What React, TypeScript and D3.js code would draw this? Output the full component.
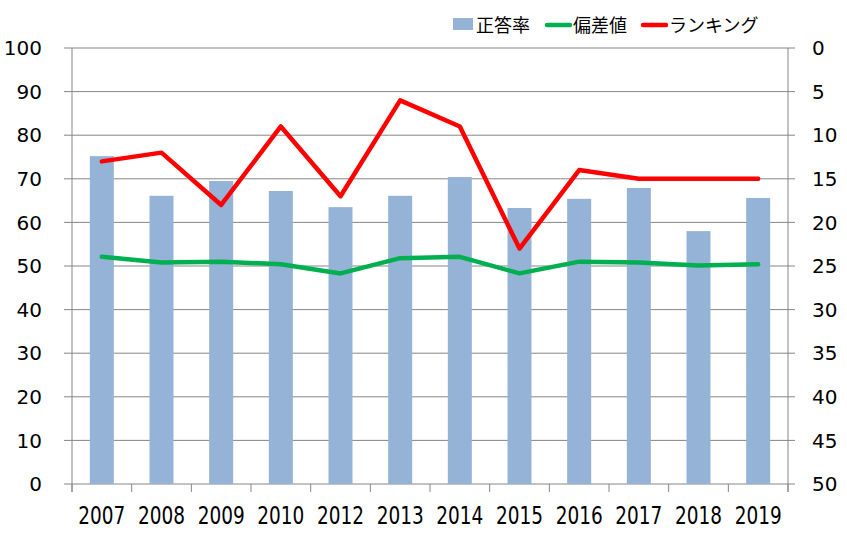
import React from "react";
import * as d3 from "d3";

const categories = ["2007", "2008", "2009", "2010", "2012", "2013", "2014", "2015", "2016", "2017", "2018", "2019"];
const correctRate = [75.2, 66.1, 69.5, 67.2, 63.5, 66.1, 70.4, 63.3, 65.4, 67.9, 58.0, 65.6];
const deviation = [52.1, 50.8, 51.0, 50.4, 48.3, 51.8, 52.1, 48.3, 51.0, 50.8, 50.1, 50.4];
const ranking = [13, 12, 18, 9, 17, 6, 9, 23, 14, 15, 15, 15];
const leftTicks = [0, 10, 20, 30, 40, 50, 60, 70, 80, 90, 100];
const rightTicks = [0, 5, 10, 15, 20, 25, 30, 35, 40, 45, 50];
const legendLabels = ["正答率", "偏差値", "ランキング"];

const W = 847, H = 546;
const L = 72, R = 788, T = 48, B = 484;
const GRID = "#868686";
const BAR = "#95B3D7";
const GREEN = "#00B050";
const RED = "#FF0000";
const NUM_FONT = "'DejaVu Sans', Verdana, sans-serif";
const JP_FONT = "'Noto Sans CJK JP', sans-serif";

export default function App() {
  const x = d3.scaleBand<string>().domain(categories).range([L, R]).padding(0);
  const yL = d3.scaleLinear().domain([0, 100]).range([B, T]);
  const yR = d3.scaleLinear().domain([0, 50]).range([T, B]);
  const cx = (c: string) => (x(c) as number) + x.bandwidth() / 2;
  const barW = 24;

  const greenLine = d3.line<number>().x((_, i) => cx(categories[i])).y((d) => yL(d))(deviation) || "";
  const redLine = d3.line<number>().x((_, i) => cx(categories[i])).y((d) => yR(d))(ranking) || "";

  const boundaries = categories.map((c) => x(c) as number).concat([R]);

  return (
    <svg width={W} height={H} style={{ position: "absolute", left: 0, top: 0, background: "#fff" }}>
      <rect x={0} y={0} width={W} height={H} fill="#fff" />
      {/* gridlines + left ticks */}
      {leftTicks.map((t) => (
        <line key={"g" + t} x1={L - 8} x2={R + 7} y1={yL(t)} y2={yL(t)} stroke={GRID} strokeWidth={1} />
      ))}
      {/* left/right axis lines */}
      <line x1={L} x2={L} y1={T} y2={B + 8} stroke={GRID} strokeWidth={1} />
      <line x1={R} x2={R} y1={T} y2={B + 8} stroke={GRID} strokeWidth={1} />
      {/* bottom ticks */}
      {boundaries.map((b, i) => (
        <line key={"bt" + i} x1={b} x2={b} y1={B} y2={B + 8} stroke={GRID} strokeWidth={1} />
      ))}
      {/* bars */}
      {correctRate.map((v, i) => (
        <rect key={"b" + i} x={cx(categories[i]) - barW / 2} y={yL(v)} width={barW} height={B - yL(v)} fill={BAR} />
      ))}
      {/* lines */}
      <path d={greenLine} fill="none" stroke={GREEN} strokeWidth={4.5} strokeLinejoin="round" strokeLinecap="round" />
      <path d={redLine} fill="none" stroke={RED} strokeWidth={4.5} strokeLinejoin="round" strokeLinecap="round" />
      {/* left labels */}
      {leftTicks.map((t) => (
        <text key={"lt" + t} x={42} y={yL(t)} dy="0.36em" textAnchor="end" fontFamily={NUM_FONT} fontSize={20} fill="#000">
          {t}
        </text>
      ))}
      {/* right labels */}
      {rightTicks.map((t) => (
        <text key={"rt" + t} x={812} y={yR(t)} dy="0.36em" textAnchor="start" fontFamily={NUM_FONT} fontSize={20} fill="#000">
          {t}
        </text>
      ))}
      {/* x labels */}
      {categories.map((c) => (
        <text key={"x" + c} x={cx(c)} y={524} textAnchor="middle" fontFamily={NUM_FONT} fontSize={24}
          textLength={47} lengthAdjust="spacingAndGlyphs" fill="#000">
          {c}
        </text>
      ))}
      {/* legend */}
      <rect x={453} y={18} width={20} height={12} fill={BAR} />
      <text x={476} y={32} fontFamily={JP_FONT} fontSize={18} fill="#000">{legendLabels[0]}</text>
      <line x1={547} x2={570} y1={25} y2={25} stroke={GREEN} strokeWidth={4.5} strokeLinecap="round" />
      <text x={573} y={32} fontFamily={JP_FONT} fontSize={18} fill="#000">{legendLabels[1]}</text>
      <line x1={643} x2={666} y1={25} y2={25} stroke={RED} strokeWidth={4.5} strokeLinecap="round" />
      <text x={669} y={32} fontFamily={JP_FONT} fontSize={18} fill="#000">{legendLabels[2]}</text>
    </svg>
  );
}
